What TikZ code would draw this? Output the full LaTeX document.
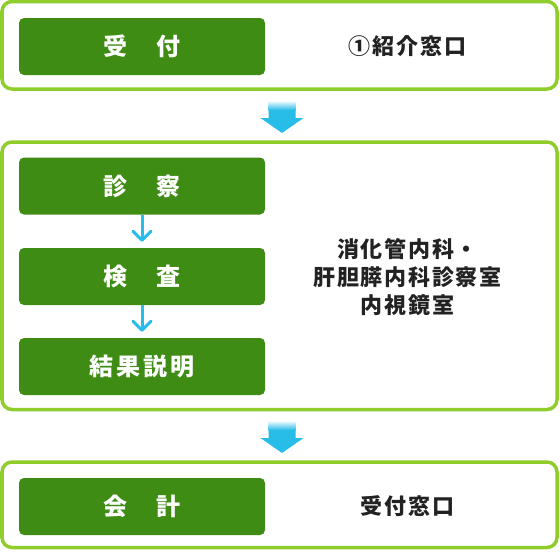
\documentclass[tikz,border=0pt]{standalone}
\usepackage{fontspec}
\usetikzlibrary{arrows.meta}
\newfontfamily\jplabel{Noto Sans CJK JP}[LetterSpace=12]
\newfontfamily\jpplace{Noto Sans CJK JP}[LetterSpace=8]
\definecolor{framegreen}{RGB}{143,205,42}
\definecolor{boxgreen}{RGB}{62,140,20}
\definecolor{arrowblue}{RGB}{40,189,233}
\definecolor{textdark}{RGB}{34,34,34}
\tikzset{
  bigarrow/.pic={
    \fill[arrowblue] (-13.5,0) -- (13.5,0) -- (13.5,17) -- (21.5,17) -- (0,32) -- (-21.5,17) -- (-13.5,17) -- cycle;
    \shade[top color=white, bottom color=arrowblue] (-13.5,-0.5) rectangle (13.5,9);
  }
}
\begin{document}
\begin{tikzpicture}[x=1pt,y=-1pt,
    frame/.style={draw=framegreen, line width=3.5pt, rounded corners=10pt, minimum width=555pt, inner sep=0pt},
    stepbox/.style={fill=boxgreen, rounded corners=5pt, minimum width=246pt, minimum height=57pt, inner sep=0pt,
      text=white, font=\jplabel\bfseries\fontsize{24}{28}\selectfont},
    place/.style={text=textdark, align=center, font=\jpplace\bfseries\fontsize{22}{28}\selectfont},
    smallarrow/.style={draw=arrowblue, line width=3pt, -{Straight Barb[length=9pt,width=18pt,round]}, shorten >=6pt}]
  \useasboundingbox (0,0) rectangle (560,552);
  % outer frames
  \node[frame, minimum height=87.5pt] (recep) at (279.5,45.25) {};
  \node[frame, minimum height=267.5pt] (exam) at (279.5,275.75) {};
  \node[frame, minimum height=85.5pt] (pay) at (279.5,504.75) {};
  % steps
  \node[stepbox] (uketsuke) at (142,46.5) {受　付};
  \node[stepbox] (shinsatsu) at (142,186) {診　察};
  \node[stepbox] (kensa) at (142,276.5) {検　査};
  \node[stepbox] (kekka) at (142,366.5) {結果説明};
  \node[stepbox] (kaikei) at (142,506.5) {会　計};
  \draw[smallarrow] (shinsatsu) -- (kensa);
  \draw[smallarrow] (kensa) -- (kekka);
  % places
  \node[place] (madoguchi) at (407.5,46.5) {①紹介窓口};
  \node[place] (shinsatsushitsu) at (407.5,277) {消化管内科・\\肝胆膵内科診察室\\内視鏡室};
  \node[place] (uketsukemadoguchi) at (407.5,506.5) {受付窓口};
  % big arrows
  \pic at (282,101) {bigarrow};
  \pic at (282,421) {bigarrow};
\end{tikzpicture}
\end{document}
